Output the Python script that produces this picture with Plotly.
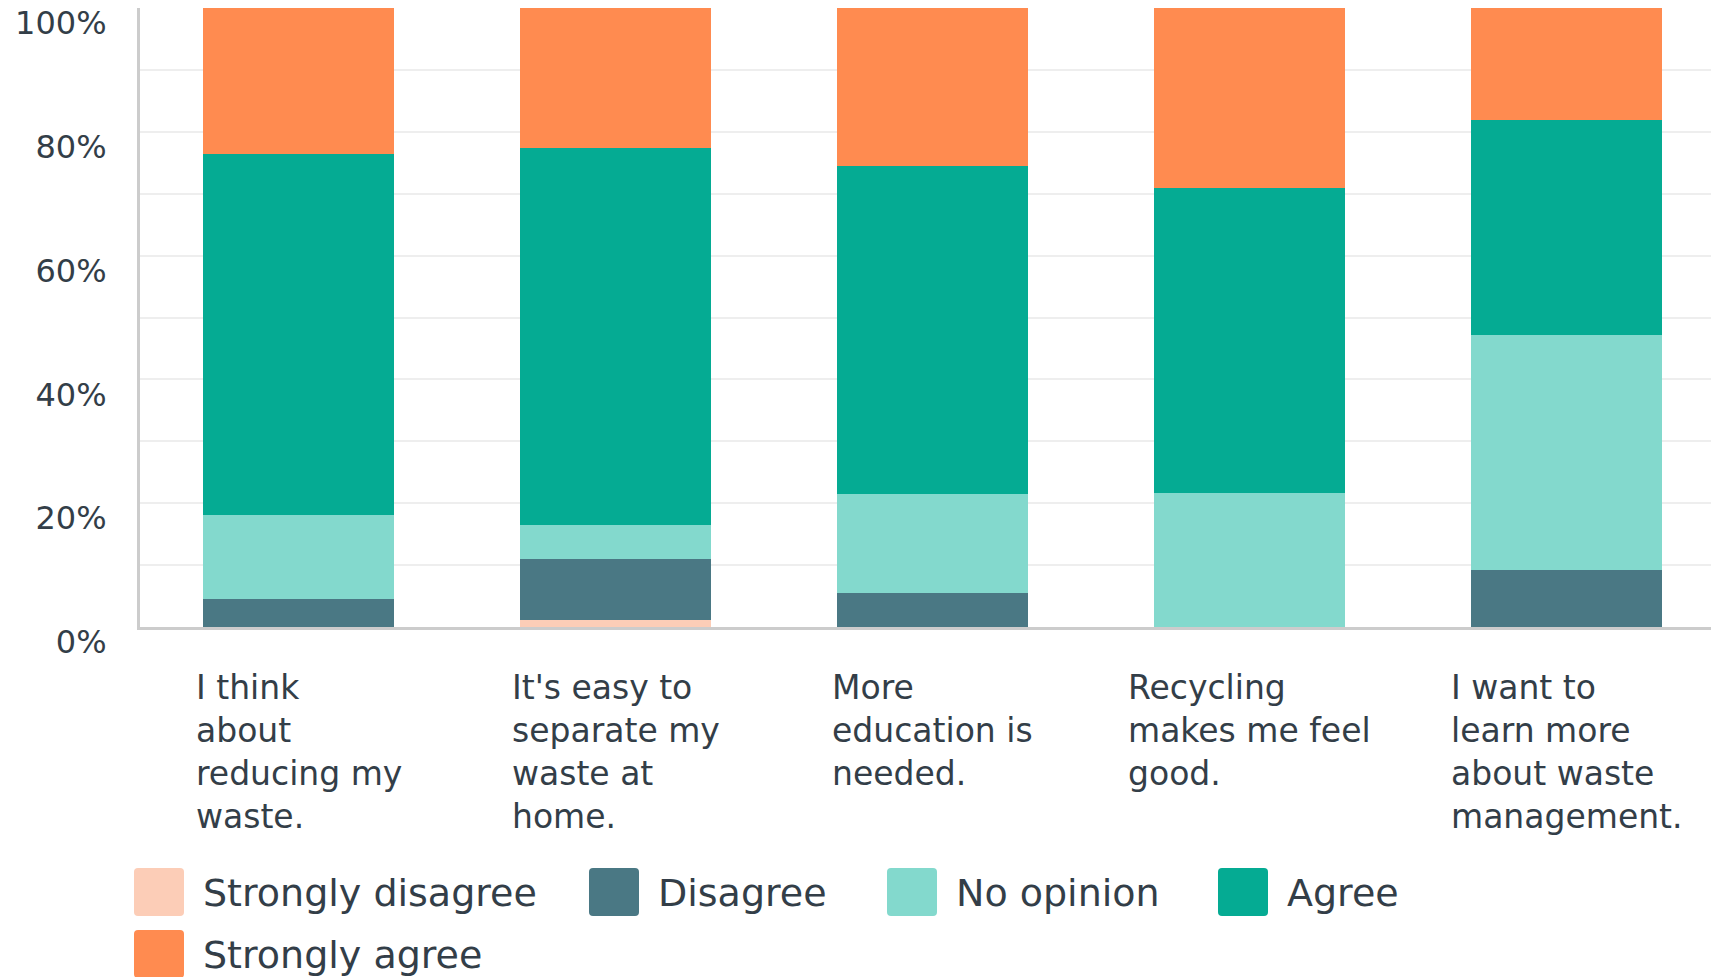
import plotly.graph_objects as go

# ---------------- data ----------------
CATEGORIES = [
    "I think about reducing my waste.",
    "It's easy to separate my waste at home.",
    "More education is needed.",
    "Recycling makes me feel good.",
    "I want to learn more about waste management.",
]
CATEGORY_LABELS = [
    "I think<br>about<br>reducing my<br>waste.",
    "It's easy to<br>separate my<br>waste at<br>home.",
    "More<br>education is<br>needed.",
    "Recycling<br>makes me feel<br>good.",
    "I want to<br>learn more<br>about waste<br>management.",
]
SERIES = ["Strongly disagree", "Disagree", "No opinion", "Agree", "Strongly agree"]

strongly_disagree = [0.0, 1.2, 0.0, 0.0, 0.0]
disagree = [4.5, 9.8, 5.5, 0.0, 9.2]
no_opinion = [13.6, 5.5, 16.0, 21.6, 37.9]
agree = [58.3, 60.9, 53.0, 49.3, 34.8]
strongly_agree = [23.6, 22.6, 25.5, 29.1, 18.1]

Y_TICKS = [0, 20, 40, 60, 80, 100]
Y_TICK_TEXT = ["0%", "20%", "40%", "60%", "80%", "100%"]

# ---------------- styles ----------------
COLORS = ["#fccdb7", "#4a7884", "#83d9cd", "#05ab93", "#ff8b50"]
TEXT_COLOR = "#333e48"
FONT = "DejaVu Sans"

W, H = 1711, 977
ML, MR, MT, MB = 140, 0, 8, 350
PW = W - ML - MR
PH = H - MT - MB


def px_x(px):
    return (px - ML) / PW


def px_y(py):
    return (H - MB - py) / PH


values = [strongly_disagree, disagree, no_opinion, agree, strongly_agree]

fig = go.Figure()
for name, color, vals in zip(SERIES, COLORS, values):
    fig.add_trace(go.Bar(
        x=CATEGORIES, y=vals, name=name,
        marker=dict(color=color, line=dict(width=0)),
        showlegend=False,
    ))

# category labels (left-aligned block, centred under each bar)
annotations = []
for cat, lab in zip(CATEGORIES, CATEGORY_LABELS):
    annotations.append(dict(
        x=cat, xref="x", y=px_y(666), yref="paper",
        xanchor="center", yanchor="top", align="left",
        text=lab, showarrow=False,
        font=dict(family=FONT, size=33, color=TEXT_COLOR),
    ))

# custom legend with large rounded swatches
LEGEND_POS = [(134, 868), (589, 868), (887, 868), (1218, 868), (134, 930)]
SW_W, SW_H, SW_R = 50, 48, 4
shapes = []
for (sx, sy), name, color in zip(LEGEND_POS, SERIES, COLORS):
    x0, x1 = sx, sx + SW_W
    y0, y1 = sy, sy + SW_H
    r = SW_R
    pts = [
        ("M", x0 + r, y0), ("L", x1 - r, y0), ("Q", x1, y0, x1, y0 + r),
        ("L", x1, y1 - r), ("Q", x1, y1, x1 - r, y1), ("L", x0 + r, y1),
        ("Q", x0, y1, x0, y1 - r), ("L", x0, y0 + r), ("Q", x0, y0, x0 + r, y0),
    ]
    path = ""
    for p in pts:
        cmd = p[0]
        coords = p[1:]
        s = []
        for i in range(0, len(coords), 2):
            s.append(f"{px_x(coords[i]):.6f},{px_y(coords[i+1]):.6f}")
        path += cmd + " ".join(s) + " "
    path += "Z"
    shapes.append(dict(type="path", path=path, xref="paper", yref="paper",
                       fillcolor=color, line=dict(width=0), layer="above"))
    annotations.append(dict(
        x=px_x(sx + 67), xref="paper", y=px_y(sy + 25), yref="paper",
        xanchor="left", yanchor="middle", text=name, showarrow=False,
        font=dict(family=FONT, size=38, color=TEXT_COLOR),
    ))

fig.update_layout(
    width=W, height=H,
    margin=dict(l=ML, r=MR, t=MT, b=MB, pad=0),
    barmode="stack", bargap=0.3975,
    plot_bgcolor="white", paper_bgcolor="white",
    showlegend=False,
    annotations=annotations, shapes=shapes,
    xaxis=dict(
        range=[-0.5, -0.5 + PW / 317.0],
        showticklabels=False, showgrid=False, zeroline=False,
        showline=True, linecolor="#cccccc", linewidth=3, ticks="",
    ),
    yaxis=dict(
        range=[0, 100], tickvals=Y_TICKS, ticktext=Y_TICK_TEXT,
        showgrid=True, gridcolor="#eeeeee", gridwidth=2,
        minor=dict(tickvals=[10, 30, 50, 70, 90], showgrid=True,
                   gridcolor="#eeeeee", gridwidth=2, ticks=""),
        zeroline=False, showline=True, linecolor="#cccccc", linewidth=3,
        ticks="", ticklabelstandoff=24, ticklabelshift=15,
        tickfont=dict(family=FONT, size=32, color=TEXT_COLOR),
    ),
)

fig.write_html("out.html")
